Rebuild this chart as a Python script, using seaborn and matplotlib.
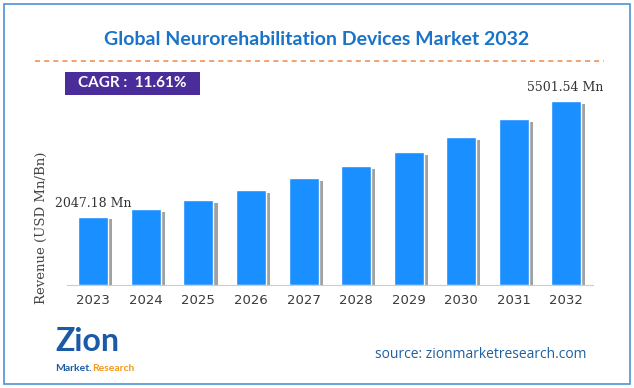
import pandas as pd
import matplotlib
matplotlib.use('Agg')
import matplotlib.pyplot as plt
import matplotlib.patheffects as pe
from matplotlib.lines import Line2D
from matplotlib.patches import Rectangle
import seaborn as sns

years = ['2023', '2024', '2025', '2026', '2027', '2028', '2029', '2030', '2031', '2032']
revenue = [2047.18, 2265, 2542, 2831, 3189, 3546, 3972, 4410, 4947, 5501.54]
first_label = '2047.18 Mn'
last_label = '5501.54 Mn'

df = pd.DataFrame({'year': years, 'revenue': revenue})

sns.set_style('white')
plt.rcParams['font.family'] = ['DejaVu Sans']

fig = plt.figure(figsize=(6.34, 3.88), dpi=100)
ax = fig.add_axes([0.1057, 0.265, 0.829, 0.515])

sns.barplot(data=df, x='year', y='revenue', color='#1a8fff', saturation=1, width=0.57, ax=ax)
for bar in ax.patches:
    bar.set_path_effects([pe.SimplePatchShadow(offset=(3, -2), shadow_rgbFace='#444444', alpha=0.5), pe.Normal()])

ax.set_xlim(-0.5, 9.5)
ax.set_ylim(0, 5960)
ax.set_yticks([])
ax.set_xlabel('')
ax.set_ylabel('Revenue (USD Mn/Bn)', family='DejaVu Serif', fontsize=9.5, color='#444444')
ax.yaxis.set_label_coords(-0.036, 0.285)
sns.despine(ax=ax, left=True)
ax.spines['bottom'].set_color('#cccccc')
ax.tick_params(axis='x', length=0, pad=6, labelsize=9.5, labelcolor='#3a3a3a')

ax.annotate(first_label, xy=(0, revenue[0]), xytext=(0, 5), textcoords='offset points',
            ha='center', va='bottom', family='DejaVu Serif', fontsize=9, color='#333333')
ax.annotate(last_label, xy=(9, revenue[-1]), xytext=(-1, 5), textcoords='offset points',
            ha='center', va='bottom', family='DejaVu Serif', fontsize=9, color='#333333')

fig.text(0.5, 0.897, 'Global Neurorehabilitation Devices Market 2032', ha='center', va='center',
         fontsize=14, fontweight='bold', color='#1a73c8', family='Lato')
fig.add_artist(Line2D([0.055, 0.953], [0.843, 0.843], transform=fig.transFigure,
                      color='#f4905a', lw=1.2, ls=(0, (3, 2.5))))
fig.add_artist(Rectangle((0.102, 0.755), 0.214, 0.06, transform=fig.transFigure,
                         facecolor='#4b2c9b', edgecolor='none'))
fig.text(0.209, 0.785, 'CAGR :  11.61%', ha='center', va='center', fontsize=11,
         fontweight='bold', color='white', family='Lato')

fig.text(0.925, 0.087, 'source: zionmarketresearch.com', ha='right', va='center',
         fontsize=10, color='#1f5f9f', family='Open Sans')
fig.text(0.087, 0.12, 'Zion', ha='left', va='center', fontsize=23, fontweight='bold',
         color='#1b5aa6', family='Lato')
fig.text(0.087, 0.05, 'Market.', ha='left', va='center', fontsize=7.5, fontweight='bold',
         color='#1b5aa6', family='Lato')
fig.text(0.146, 0.05, 'Research', ha='left', va='center', fontsize=7.5, fontweight='bold',
         color='#f39a1e', family='Lato')

fig.add_artist(Rectangle((0.006, 0.01), 0.988, 0.98, transform=fig.transFigure,
                         facecolor='none', edgecolor='#5b9bd5', lw=1.3))

fig.savefig('out.png', dpi=100)
